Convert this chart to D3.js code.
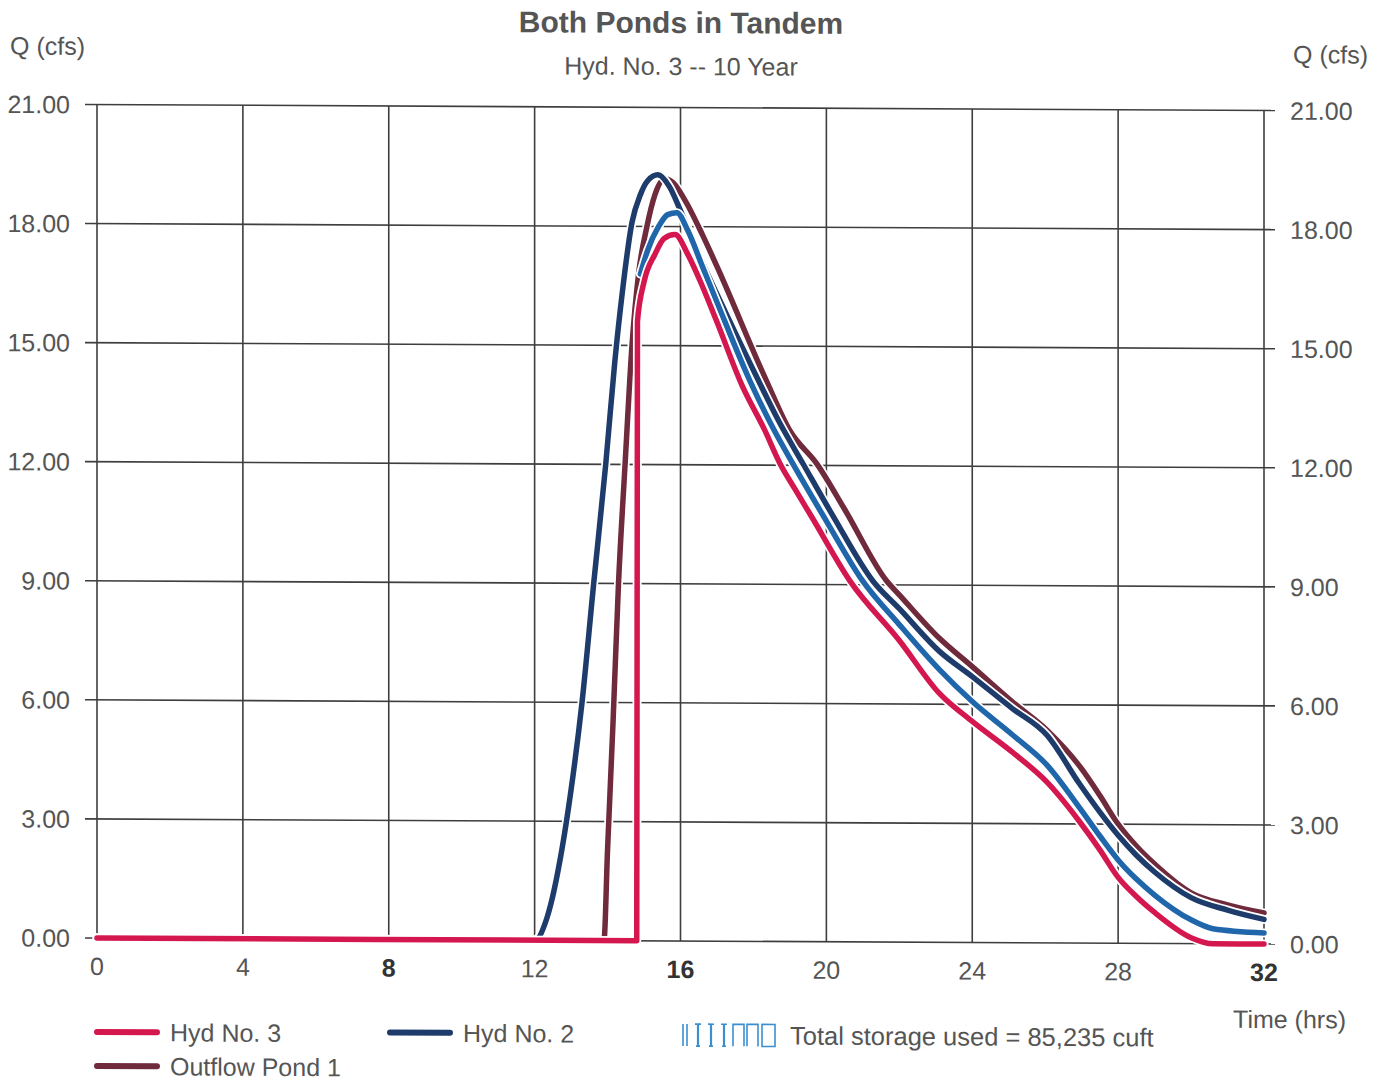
<!DOCTYPE html>
<html>
<head>
<meta charset="utf-8">
<script src="https://cdn.jsdelivr.net/npm/d3@7/dist/d3.min.js"></script>
<style>
  html, body { margin: 0; padding: 0; background: #fff; }
  svg { display: block; }
  text { font-family: "Liberation Sans", Arial, sans-serif; fill: #555; }
</style>
</head>
<body>
<svg id="chart" width="1387" height="1080"></svg>
<script>
// ---- Data ----
const xTicks = [0, 4, 8, 12, 16, 20, 24, 28, 32];
const xTickBold = [8, 16, 32];
const yTicks = [0, 3, 6, 9, 12, 15, 18, 21];

const hyd3Time = [0, 14.8, 14.82, 15.0, 15.3, 15.55, 15.85, 16.2, 16.6, 17.0, 17.69, 18.3, 18.73, 19.14, 19.6, 20.65, 22.0, 23.1, 24.0, 25.1, 26.05, 26.95, 27.5, 28.0, 28.5, 29.0, 30.0, 30.6, 32];
const hyd3Q    = [0, 0, 15.6, 16.6, 17.3, 17.7, 17.8, 17.3, 16.5, 15.6, 14.0, 12.9, 12.04, 11.4, 10.7, 9.09, 7.6, 6.27, 5.57, 4.8, 4.05, 3.05, 2.35, 1.66, 1.18, 0.78, 0.15, 0, 0];

const storTime = [14.9, 15.1, 15.4, 15.65, 15.9, 16.2, 16.6, 17.0, 17.9, 18.5, 19.08, 20.0, 21.0, 22.0, 23.1, 24.0, 25.1, 26.05, 26.95, 27.5, 28.0, 28.5, 29.0, 30.0, 30.6, 32];
const storQ    = [16.8, 17.4, 18.0, 18.3, 18.35, 17.9, 17.0, 16.1, 14.13, 13.0, 12.04, 10.6, 9.09, 8.0, 6.87, 6.07, 5.24, 4.48, 3.4, 2.7, 2.1, 1.62, 1.22, 0.6, 0.38, 0.28];

const hyd2Time = [0, 12.0, 12.35, 12.75, 13.0, 13.3, 13.62, 13.95, 14.2, 14.4, 14.67, 14.9, 15.1, 15.38, 15.7, 16.0, 16.5, 17.0, 18.1, 18.7, 19.36, 20.2, 21.28, 22.0, 23.1, 24.0, 25.1, 26.05, 26.95, 27.5, 28.0, 28.5, 29.0, 30.0, 31.0, 32];
const hyd2Q    = [0, 0, 0.6, 2.3, 3.8, 6.0, 9.0, 12.0, 14.6, 16.3, 18.1, 18.8, 19.15, 19.3, 19.0, 18.4, 17.3, 16.3, 14.2, 13.1, 12.04, 10.7, 9.09, 8.4, 7.33, 6.7, 5.9, 5.23, 4.0, 3.3, 2.72, 2.22, 1.8, 1.16, 0.85, 0.62];

const pond1Time = [0, 13.9, 14.0, 14.15, 14.3, 14.48, 14.67, 14.85, 15.08, 15.3, 15.57, 15.8, 16.1, 16.6, 17.0, 18.32, 19.0, 19.74, 20.5, 21.66, 22.0, 23.1, 24.0, 25.1, 26.05, 26.95, 27.5, 28.0, 28.5, 29.0, 30.0, 31.0, 32];
const pond1Q    = [0, 0, 2.3, 5.5, 9.0, 12.0, 15.0, 16.8, 18.0, 18.8, 19.2, 19.1, 18.7, 17.8, 17.0, 14.2, 12.87, 12.04, 10.9, 9.09, 8.75, 7.66, 6.95, 6.07, 5.36, 4.45, 3.72, 3.0, 2.45, 2.0, 1.28, 0.98, 0.78];

const seriesColors = ["#6f2a3c", "#1d3b6b", "#1f66ab", "#d5174f"];
const seriesTimes = [pond1Time, hyd2Time, storTime, hyd3Time];
const seriesValues = [pond1Q, hyd2Q, storQ, hyd3Q];

const titleText = "Both Ponds in Tandem";
const subtitleText = "Hyd. No. 3 -- 10 Year";
const storageText = "Total storage used = 85,235 cuft";

// ---- Drawing ----
const svg = d3.select("#chart");
const skewDeg = 0.295;
const k = Math.tan(skewDeg * Math.PI / 180);
const root = svg.append("g").attr("transform", `translate(0, ${-680 * k}) skewY(${skewDeg})`);

const x = d3.scaleLinear().domain([0, 32]).range([97, 1264]);
const y = d3.scaleLinear().domain([0, 21]).range([941, 107.5]);

// grid
const grid = root.append("g").attr("stroke", "#3e3e3e").attr("stroke-width", 1.6);
grid.selectAll("line.h").data(yTicks).join("line")
  .attr("x1", x(0) - 12).attr("x2", x(32) + 11)
  .attr("y1", d => y(d)).attr("y2", d => y(d));
grid.selectAll("line.v").data(xTicks).join("line")
  .attr("x1", d => x(d)).attr("x2", d => x(d))
  .attr("y1", y(21)).attr("y2", y(0));

// axes labels
const fmt = d3.format(".2f");
root.append("g").selectAll("text").data(yTicks).join("text")
  .attr("x", 70).attr("y", d => y(d) + 9)
  .attr("text-anchor", "end").attr("font-size", 25)
  .text(d => fmt(d));
root.append("g").selectAll("text").data(yTicks).join("text")
  .attr("x", 1290).attr("y", d => y(d) + 9)
  .attr("text-anchor", "start").attr("font-size", 25)
  .text(d => fmt(d));
root.append("g").selectAll("text").data(xTicks).join("text")
  .attr("x", d => x(d)).attr("y", 978)
  .attr("text-anchor", "middle").attr("font-size", 25)
  .attr("font-weight", d => xTickBold.includes(d) ? "bold" : "normal")
  .style("fill", d => xTickBold.includes(d) ? "#333" : "#555")
  .text(d => d);

root.append("text").attr("x", 10).attr("y", 58).attr("font-size", 25).text("Q (cfs)");
root.append("text").attr("x", 1368).attr("y", 60).attr("text-anchor", "end").attr("font-size", 25).text("Q (cfs)");
root.append("text").attr("x", 1346).attr("y", 1025).attr("text-anchor", "end").attr("font-size", 25).text("Time (hrs)");

root.append("text").attr("x", 681).attr("y", 33).attr("text-anchor", "middle")
  .attr("font-size", 30).attr("font-weight", "bold").text(titleText);
root.append("text").attr("x", 681).attr("y", 75).attr("text-anchor", "middle")
  .attr("font-size", 25).text(subtitleText);

// lines
const line = d3.line().x(d => x(d[0])).y(d => y(d[1])).curve(d3.curveMonotoneX);
const lines = root.append("g");
seriesTimes.forEach((ts, i) => {
  const pts = ts.map((t, j) => [t, seriesValues[i][j]]);
  lines.append("path").datum(pts).attr("d", line)
    .attr("fill", "none").attr("stroke", "#fff").attr("stroke-width", 9)
    .attr("stroke-linejoin", "round").attr("stroke-linecap", "round");
  lines.append("path").datum(pts).attr("d", line)
    .attr("fill", "none").attr("stroke", seriesColors[i]).attr("stroke-width", 5.5)
    .attr("stroke-linejoin", "round").attr("stroke-linecap", "round");
});

// legend
const legend = root.append("g");
const legendItems = [
  { name: "Hyd No. 3", color: seriesColors[3], x: 97, y: 1035 },
  { name: "Hyd No. 2", color: seriesColors[1], x: 390, y: 1034 },
  { name: "Outflow Pond 1", color: seriesColors[0], x: 97, y: 1069 }
];
legendItems.forEach(it => {
  legend.append("line").attr("x1", it.x).attr("x2", it.x + 60)
    .attr("y1", it.y).attr("y2", it.y)
    .attr("stroke", it.color).attr("stroke-width", 6).attr("stroke-linecap", "round");
  legend.append("text").attr("x", it.x + 73).attr("y", it.y + 9)
    .attr("font-size", 25).text(it.name);
});

// storage hatch icon
const hatch = legend.append("g").attr("stroke", "#3b8fd1").attr("stroke-width", 1.6).attr("fill", "none");
const hx = 683, hy0 = 1024, hy1 = 1046;
[0, 4].forEach(o => hatch.append("line").attr("x1", hx + o).attr("x2", hx + o).attr("y1", hy0).attr("y2", hy1));
[15, 28, 41].forEach(o => {
  hatch.append("line").attr("x1", hx + o).attr("x2", hx + o).attr("y1", hy0).attr("y2", hy1).attr("stroke-width", 2.2);
  hatch.append("line").attr("x1", hx + o - 3).attr("x2", hx + o + 3).attr("y1", hy0).attr("y2", hy0);
  hatch.append("line").attr("x1", hx + o - 2).attr("x2", hx + o + 2).attr("y1", hy1).attr("y2", hy1);
});
[50, 64].forEach(o => {
  hatch.append("path").attr("d", `M${hx + o},${hy1} V${hy0} H${hx + o + 11} V${hy1}`);
});
hatch.append("rect").attr("x", hx + 79).attr("y", hy0).attr("width", 13).attr("height", hy1 - hy0);
legend.append("text").attr("x", 790).attr("y", 1044).attr("font-size", 25.5).text(storageText);
</script>
</body>
</html>
